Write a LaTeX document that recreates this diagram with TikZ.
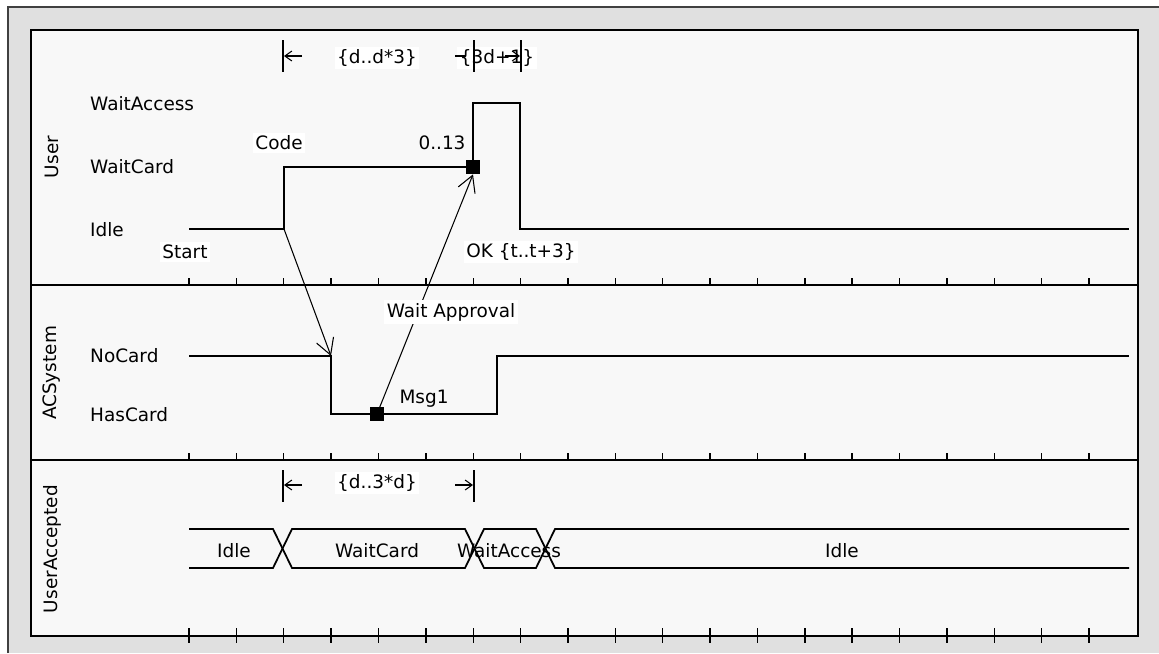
\documentclass[tikz,border=0pt]{standalone}
\usepackage{fontspec}
\setmainfont{DejaVu Sans}
\usetikzlibrary{arrows.meta}
\definecolor{bggray}{HTML}{E0E0E0}
\definecolor{panel}{HTML}{F8F8F8}

\begin{document}
\begin{tikzpicture}[x=0.02cm,y=-0.02cm,
  font=\fontsize{10.5}{12}\selectfont,
  wave/.style={line width=1pt},
  wlbl/.style={fill=white,inner sep=1.5pt},
  msg/.style={line width=0.6pt,-{Straight Barb[length=0.32cm,width=0.36cm]}},
  tarr/.style={line width=0.6pt,-{Straight Barb[length=0.14cm,width=0.2cm]}},
  tbar/.style={line width=0.9pt},
  sq/.style={fill=black,minimum size=0.28cm,inner sep=0pt}]

  \useasboundingbox (0,0) rectangle (1159,653);
  \fill[white] (0,0) rectangle (1159,653);
  \fill[bggray] (8,7) rectangle (1159,653);
  \draw[line width=1.2pt,black!75] (8,653) -- (8,7) -- (1159,7);

  \draw[fill=panel,line width=1pt] (31,30) rectangle (1138,636);
  \draw[line width=0.9pt] (31,285) -- (1138,285);
  \draw[line width=0.9pt] (31,460) -- (1138,460);

  % time ticks
  \foreach \i in {0,...,19} {
    \draw[line width=0.8pt] ({189+47.37*\i},278) -- ({189+47.37*\i},285);
    \draw[line width=0.8pt] ({189+47.37*\i},453) -- ({189+47.37*\i},460);
    \draw[line width=0.8pt] ({189+47.37*\i},628) -- ({189+47.37*\i},643);
  }

  \node[rotate=90] (user) at (52,157) {User};
  \node[rotate=90] (acsys) at (52,373) {ACSystem};
  \node[rotate=90] (useracc) at (52,549) {UserAccepted};

  \node[anchor=west] (waitaccess) at (84,104) {WaitAccess};
  \node[anchor=west] (waitcard) at (84,167) {WaitCard};
  \node[anchor=west] (idle) at (84,230) {Idle};
  \node[anchor=west] (nocard) at (84,356) {NoCard};
  \node[anchor=west] (hascard) at (84,415) {HasCard};

  % User
  \draw[wave] (189,229) -- (284,229) -- (284,167) -- (473,167) -- (473,103)
    -- (520,103) -- (520,229) -- (1129,229);

  % ACSystem
  \draw[wave] (189,356) -- (331,356) -- (331,414) -- (497,414) -- (497,356)
    -- (1129,356);

  % UserAccepted
  \draw[wave] (189,529) -- (273,529) -- (292,568) -- (465,568) -- (484,529)
    -- (536,529) -- (555,568) -- (1129,568);
  \draw[wave] (189,568) -- (273,568) -- (292,529) -- (465,529) -- (484,568)
    -- (536,568) -- (555,529) -- (1129,529);

  \node (va) at (234,551) {Idle};
  \node (vb) at (377,551) {WaitCard};
  \node (vc) at (509,551) {WaitAccess};
  \node (vd) at (842,551) {Idle};

  \node[wlbl] (start) at (185,252) {Start};
  \node[wlbl] (code) at (279,143) {Code};
  \node (range) at (442,143) {0..13};
  \node[wlbl] (ok) at (521,252) {OK \{t..t+3\}};
  \node (msgone) at (424,399) {Msg1};

  % messages
  \coordinate (codesend) at (284,229);
  \coordinate (codercv) at (331,356);
  \draw[msg] (codesend) -- (codercv);
  \node[sq] (msgsrc) at (377,414) {};
  \node[sq] (msgdst) at (473,167) {};
  \draw[msg] (msgsrc.center) -- (msgdst.south);
  \node[wlbl] (waitappr) at (451,312) {Wait Approval};

  % duration constraints
  \draw[tbar] (283,40) -- (283,72);
  \draw[tarr] (302,56) -- (284,56);
  \node[wlbl] (dura) at (377,58) {\{d..d*3\}};

  \node[wlbl] (durb) at (497,58) {\{3d+1\}};
  \draw[tbar] (474,40) -- (474,72);
  \draw[tbar] (521,40) -- (521,72);
  \draw[line width=0.6pt] (455,56) -- (466,56);
  \draw[tarr] (505,56) -- (520,56);

  \draw[tbar] (283,470) -- (283,502);
  \draw[tbar] (474,470) -- (474,502);
  \draw[tarr] (302,485) -- (284,485);
  \draw[tarr] (455,485) -- (473,485);
  \node[wlbl] (durc) at (377,483) {\{d..3*d\}};

\end{tikzpicture}
\end{document}
